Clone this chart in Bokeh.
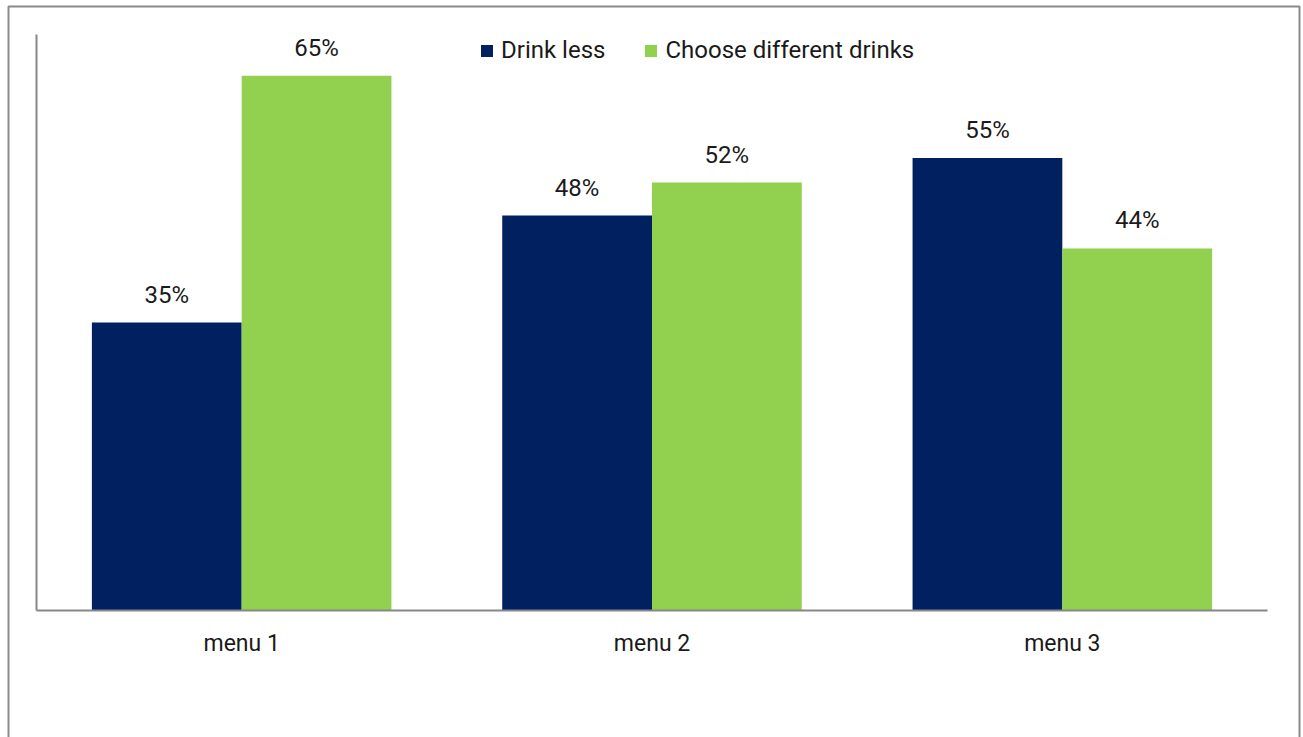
from bokeh.plotting import figure
from bokeh.models import (ColumnDataSource, FactorRange, Range1d, LabelSet,
                          Legend, LegendItem, BoxAnnotation)
from bokeh.core.properties import value
from bokeh.transform import dodge
from bokeh.embed import file_html
from bokeh.resources import INLINE

# Survey responses per menu (percent)
menus = ["menu 1", "menu 2", "menu 3"]
drink_less = [35, 48, 55]
choose_different = [65, 52, 44]
series_names = ["Drink less", "Choose different drinks"]

NAVY = "#002060"
GREEN = "#92D050"
AXIS_GREY = "#878787"
TEXT = "#1a1a1a"
FONT = "Roboto"

W, H = 1303, 737
# plot area (pixels) inside the canvas
AREA_L, AREA_R, AREA_T, AREA_B = 37, 1268, 34, 610
Y_MAX = 70

src = ColumnDataSource(dict(
    menu=menus,
    less=drink_less,
    diff=choose_different,
    less_lbl=[f"{v}%" for v in drink_less],
    diff_lbl=[f"{v}%" for v in choose_different],
))

# The frame fills the whole canvas; ranges are padded so that the
# category area sits at AREA_* and the outer box can be drawn inside.
px_per_cat = (AREA_R - AREA_L) / len(menus)
pad = ((AREA_L + (W - AREA_R)) / 2) / px_per_cat
px_per_unit = (AREA_B - AREA_T) / Y_MAX
y_lo = -(H - AREA_B) / px_per_unit
y_hi = Y_MAX + AREA_T / px_per_unit

p = figure(
    width=W, height=H,
    x_range=FactorRange(factors=menus, range_padding=pad,
                        range_padding_units="absolute"),
    y_range=Range1d(y_lo, y_hi),
    x_axis_location=None, y_axis_location=None,
    output_backend="svg", toolbar_location=None,
    min_border=0,
)
p.outline_line_color = None
p.background_fill_color = "white"
p.border_fill_color = "white"
p.xgrid.visible = False
p.ygrid.visible = False

bw = 0.365
off = bw / 2
r1 = p.vbar(x=dodge("menu", -off, range=p.x_range), top="less", width=bw,
            source=src, fill_color=NAVY, line_color=None)
r2 = p.vbar(x=dodge("menu", off, range=p.x_range), top="diff", width=bw,
            source=src, fill_color=GREEN, line_color=None)

for col, lbl, o in (("less", "less_lbl", -off), ("diff", "diff_lbl", off)):
    p.add_layout(LabelSet(
        x=dodge("menu", o, range=p.x_range), y=col, text=lbl, source=src,
        text_align="center", text_baseline="alphabetic", y_offset=20,
        text_font=value(FONT), text_font_size="24px", text_color=TEXT,
    ))

# Axis lines: left edge of the first category and the zero baseline
n = len(menus)
p.segment(x0=[0, 0], y0=[0, 0], x1=[0, n], y1=[Y_MAX, 0],
          line_color=AXIS_GREY, line_width=2)

# Category names under the baseline
p.text(x=menus, y=[0] * n, text=menus, y_offset=33,
       text_align="center", text_baseline="middle",
       text_font=value(FONT), text_font_size="23px", text_color=TEXT)

legend = Legend(
    items=[LegendItem(label=series_names[0], renderers=[r1]),
           LegendItem(label=series_names[1], renderers=[r2])],
    orientation="horizontal",
    location=(479, 673),
    glyph_width=15, glyph_height=15,
    label_standoff=7, spacing=38,
    padding=0, margin=0,
    border_line_color=None, background_fill_alpha=0,
    label_text_font=FONT, label_text_font_size="24px",
    label_text_color=TEXT,
)
p.add_layout(legend, "center")

# Thin grey frame around the whole chart
p.add_layout(BoxAnnotation(
    left=8, right=1299, top=6, bottom=760,
    left_units="canvas", right_units="canvas",
    top_units="canvas", bottom_units="canvas",
    fill_alpha=0, line_color="#8a8a8a", line_alpha=1, line_width=2,
))

open("out.html", "w").write(file_html(p, INLINE))
